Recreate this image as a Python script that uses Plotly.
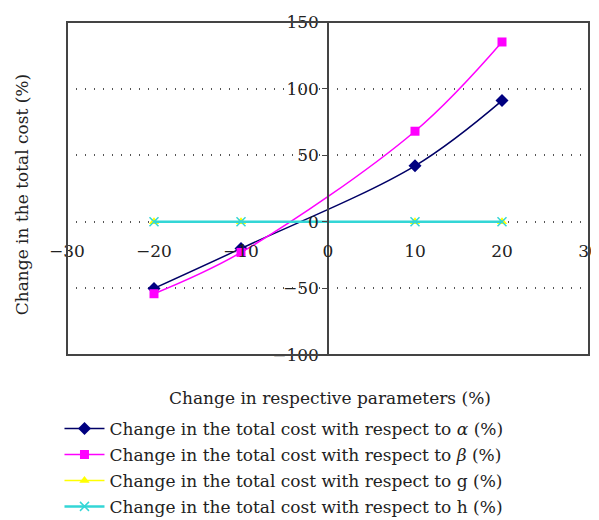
import plotly.graph_objects as go

x_vals = [-20, -10, 10, 20]
alpha_vals = [-50, -20, 42, 91]
beta_vals = [-54, -23, 68, 135]
g_vals = [0, 0, 0, 0]
h_vals = [0, 0, 0, 0]

x_ticks = [-30, -20, -10, 0, 10, 20, 30]
y_ticks = [-100, -50, 0, 50, 100, 150]

names = [
    "Change in the total cost with respect to <i>α</i> (%)",
    "Change in the total cost with respect to <i>β</i> (%)",
    "Change in the total cost with respect to g (%)",
    "Change in the total cost with respect to h (%)",
]

FONT = "DejaVu Serif"
FS = 17
TXT = "#222222"

fig = go.Figure()
fig.add_trace(go.Scatter(x=x_vals, y=alpha_vals, name=names[0], mode="lines+markers",
                         line=dict(color="#000066", width=1.5, shape="spline"),
                         marker=dict(symbol="diamond", size=10, color="#000080"),
                         legend="legend"))
fig.add_trace(go.Scatter(x=x_vals, y=beta_vals, name=names[1], mode="lines+markers",
                         line=dict(color="#FF00FF", width=1.5, shape="spline"),
                         marker=dict(symbol="square", size=9, color="#FF00FF"),
                         legend="legend2"))
fig.add_trace(go.Scatter(x=x_vals, y=g_vals, name=names[2], mode="lines+markers",
                         line=dict(color="#FFFF00", width=1.5),
                         marker=dict(symbol="triangle-up", size=9, color="#FFFF00"),
                         legend="legend3"))
fig.add_trace(go.Scatter(x=x_vals, y=h_vals, name=names[3], mode="lines+markers",
                         line=dict(color="#33D6D6", width=2.5),
                         marker=dict(symbol="x-thin", size=9, color="#33D6D6",
                                     line=dict(width=1.5, color="#33D6D6")),
                         legend="legend4"))


def leg(yv):
    return dict(x=-0.0144, xanchor="left", y=yv, yanchor="middle",
                font=dict(family=FONT, size=FS, color=TXT),
                bgcolor="rgba(0,0,0,0)", itemwidth=40)


fig.update_layout(
    width=599, height=520,
    margin=dict(l=59, r=18, t=14, b=173, autoexpand=False),
    paper_bgcolor="white", plot_bgcolor="white",
    font=dict(family=FONT, size=FS, color=TXT),
    showlegend=True,
    legend=leg(-0.222), legend2=leg(-0.300), legend3=leg(-0.378), legend4=leg(-0.456),
    xaxis=dict(range=[-30, 30], tickvals=x_ticks, showgrid=False, zeroline=False,
               showline=False, anchor="free", position=0.4, automargin=False,
               ticks="outside", ticklen=14, tickcolor="rgba(0,0,0,0)",
               tickfont=dict(family=FONT, size=FS, color=TXT)),
    yaxis=dict(range=[-100, 150], tickvals=y_ticks, showgrid=True, zeroline=False,
               gridcolor="#555555", gridwidth=1.5, griddash="1px,8px",
               showline=True, linecolor="#444444", linewidth=1.5,
               anchor="free", position=0.5, automargin=False,
               ticks="outside", ticklen=5, tickcolor="#444444",
               tickfont=dict(family=FONT, size=FS, color=TXT)),
    shapes=[dict(type="rect", xref="paper", yref="paper", x0=0, x1=1, y0=0, y1=1,
                 line=dict(color="#444444", width=2), layer="above")],
    annotations=[
        dict(text="Change in respective parameters (%)", xref="paper", yref="paper",
             x=0.504, y=-0.129, xanchor="center", yanchor="middle", showarrow=False,
             font=dict(family=FONT, size=FS, color=TXT)),
        dict(text="Change in the total cost (%)", xref="paper", yref="paper",
             x=-0.086, y=0.48, xanchor="center", yanchor="middle", showarrow=False,
             textangle=-90, font=dict(family=FONT, size=FS, color=TXT)),
    ],
)

fig.write_html("out.html")
